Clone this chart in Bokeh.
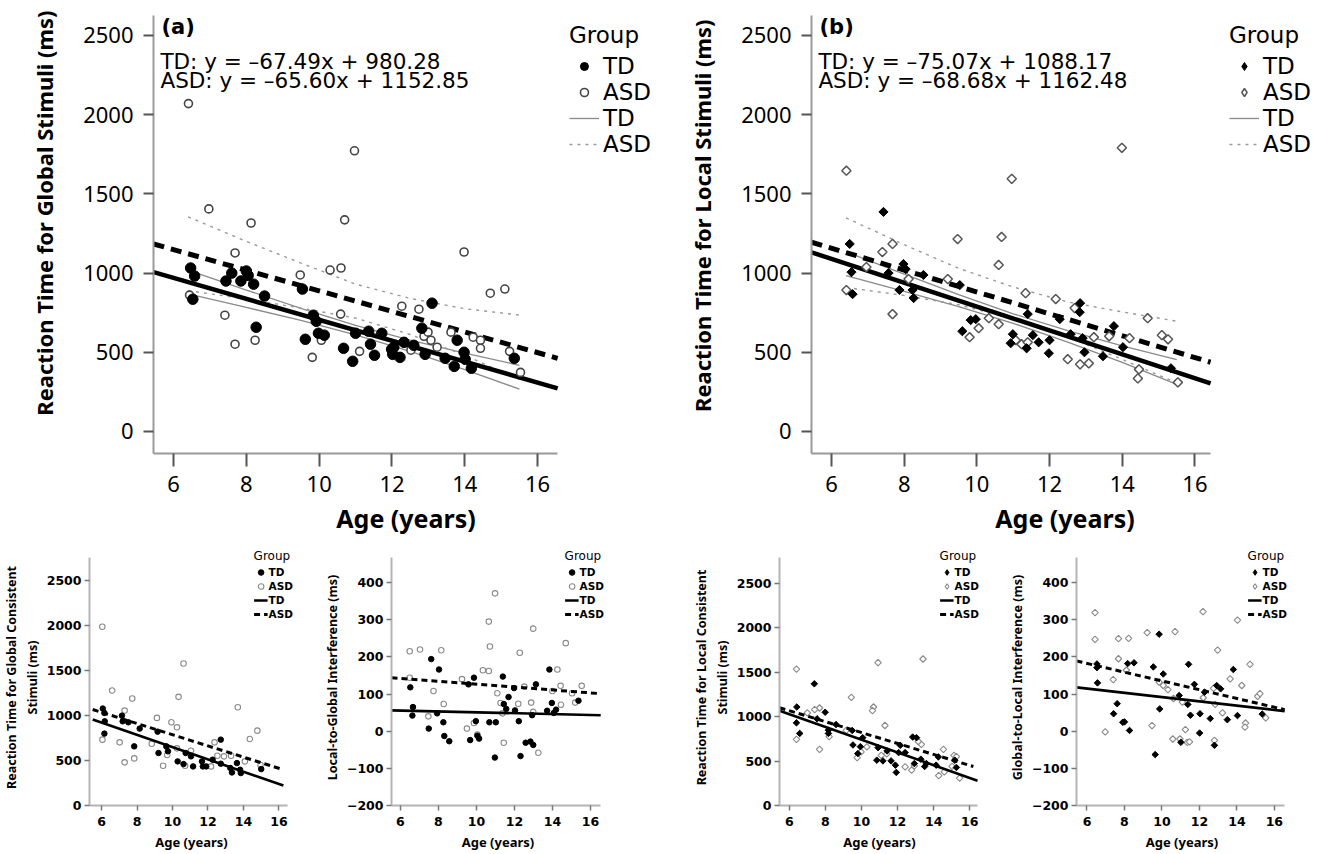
import math
from bokeh.plotting import figure
from bokeh.models import Range1d, Legend, LegendItem, Label, FixedTicker, Title
from bokeh.layouts import column, row
from bokeh.embed import file_html
from bokeh.resources import INLINE

FONT = "Noto Sans"
FONT2 = "DejaVu Sans"

AGE_TICKS = [6, 8, 10, 12, 14, 16]
RT_TICKS = [0, 500, 1000, 1500, 2000, 2500]
INT_TICKS = [-200, -100, 0, 100, 200, 300, 400]

# ---------------- Panel (a): global stimuli ----------------
a_td_age = [6.47, 6.58, 6.53, 7.44, 7.60, 7.85, 8.00, 8.05, 8.20, 8.50, 9.54, 8.27, 9.84, 9.92, 9.62, 9.98,
            10.14, 10.67, 10.92, 11.00, 11.36, 11.41, 11.52, 11.72, 11.99, 12.02, 12.05, 12.22, 12.33, 12.60,
            12.82, 12.91, 13.10, 13.46, 13.71, 13.79, 13.98, 14.01, 14.18, 15.36]
a_td_rt = [1032, 981, 835, 950, 1000, 950, 1013, 985, 930, 855, 899, 658, 734, 696, 582, 620,
           608, 525, 443, 620, 633, 551, 481, 620, 519, 487, 532, 468, 563, 544,
           652, 487, 810, 462, 411, 576, 500, 456, 399, 462]
a_asd_age = [6.41, 10.97, 6.97, 8.13, 10.70, 7.69, 13.98, 10.30, 10.60, 9.48, 14.70, 15.10, 6.44, 7.41, 7.69,
             8.24, 9.81, 10.06, 10.59, 11.11, 12.27, 12.74, 12.52, 12.88, 12.99, 13.07, 13.24, 13.62, 14.23,
             14.43, 14.43, 15.23, 15.53]
a_asd_rt = [2070, 1772, 1405, 1316, 1336, 1127, 1133, 1019, 1032, 988, 873, 899, 861, 734, 551,
            576, 468, 576, 741, 506, 791, 772, 513, 601, 627, 576, 532, 627, 595,
            576, 525, 506, 373]
a_fit_age = [5.45, 16.55]
a_td_fit = [1006, 272]
a_asd_fit = [1184, 462]
a_ci_age = [6.4, 8.0, 9.5, 11.0, 12.5, 14.0, 15.5]
a_td_ci_hi = [1018, 893, 777, 670, 577, 494, 418]
a_td_ci_lo = [868, 783, 701, 610, 505, 390, 268]
a_asd_ci_hi = [1355, 1200, 1063, 930, 840, 775, 735]
a_asd_ci_lo = [889, 836, 779, 716, 612, 481, 327]

# ---------------- Panel (b): local stimuli ----------------
b_td_age = [7.43, 6.50, 6.55, 7.57, 7.98, 8.04, 8.53, 9.53, 7.87, 8.23, 6.58, 8.26, 9.60, 9.83, 9.97, 10.93,
            10.99, 11.37, 11.40, 11.54, 11.70, 12.00, 11.98, 12.28, 12.83, 12.84, 12.58, 12.91, 12.96, 13.47,
            13.77, 14.02, 15.34]
b_td_rt = [1386, 1184, 1006, 1000, 1057, 1025, 988, 924, 893, 893, 867, 842, 633, 703, 709, 557,
           614, 525, 741, 608, 563, 576, 494, 709, 753, 810, 614, 589, 500, 475,
           665, 532, 399]
b_asd_age = [6.41, 10.96, 13.99, 9.47, 10.68, 7.68, 7.40, 10.60, 6.96, 8.12, 9.20, 11.34, 12.17, 6.41, 7.68,
             9.80, 10.05, 10.33, 10.60, 11.07, 11.23, 11.40, 12.50, 12.69, 12.84, 13.08, 13.22, 13.64, 14.20,
             14.46, 14.43, 14.70, 15.09, 15.26, 15.53]
b_asd_rt = [1646, 1595, 1791, 1215, 1228, 1184, 1133, 1051, 1038, 962, 962, 873, 836, 893, 741,
            595, 652, 715, 677, 576, 551, 563, 456, 779, 424, 430, 595, 601, 589,
            392, 335, 715, 608, 582, 310]
b_fit_age = [5.45, 16.43]
b_td_fit = [1131, 304]
b_asd_fit = [1195, 437]
b_ci_age = [6.4, 8.0, 9.5, 11.0, 12.5, 14.0, 15.5]
b_td_ci_hi = [1134, 994, 864, 743, 636, 540, 453]
b_td_ci_lo = [984, 884, 788, 683, 564, 436, 297]
b_asd_ci_hi = [1349, 1179, 1030, 912, 818, 755, 696]
b_asd_ci_lo = [909, 859, 800, 712, 598, 455, 306]

# ---------------- Panel (c): global consistent ----------------
c_td_age = [6.07, 6.16, 6.18, 6.16, 7.15, 7.19, 7.51, 7.84, 8.15, 9.16, 9.21, 9.65, 9.74, 10.29, 10.62,
            10.74, 11.04, 11.16, 11.66, 11.71, 11.90, 12.26, 12.72, 12.72, 13.26, 13.35, 13.63, 13.81, 13.85, 15.00]
c_td_rt = [1079, 1030, 937, 800, 1000, 937, 926, 658, 856, 822, 584, 658, 603, 491, 461,
           584, 547, 435, 491, 435, 435, 510, 733, 465, 417, 368, 472, 398, 361, 405]
c_asd_age = [6.04, 6.60, 10.62, 10.34, 7.73, 7.30, 6.05, 7.02, 7.30, 7.84, 9.12, 9.94, 10.25, 8.83, 9.47,
             9.70, 10.25, 10.71, 11.04, 12.17, 12.37, 12.53, 12.90, 13.68, 13.30, 14.36, 14.08, 14.78, 14.96]
c_asd_rt = [1990, 1280, 1581, 1209, 1190, 1056, 733, 703, 480, 524, 975, 926, 870, 688, 443,
            562, 636, 443, 610, 435, 703, 554, 547, 1094, 554, 740, 491, 833, 450]
c_fit_age = [5.5, 16.25]
c_td_fit = [956, 223]
c_asd_fit = [1068, 398]

# ---------------- Panel (d): local-to-global interference ----------------
d_td_age = [7.62, 8.03, 11.39, 9.87, 13.84, 6.52, 9.58, 11.98, 13.13, 11.69, 11.44, 11.57, 12.03, 13.97,
            13.72, 14.07, 14.19, 15.37, 6.66, 6.63, 7.93, 8.26, 7.49, 8.31, 8.57, 9.97, 10.68, 11.02, 12.23,
            9.67, 10.05, 10.14, 10.97, 12.32, 12.59, 12.84, 12.99, 12.93]
d_td_val = [194, 166, 147, 144, 166, 118, 126, 116, 126, 92, 73, 60, 56, 76,
            55, 49, 58, 82, 65, 42, 48, 24, 7, -13, -27, 27, 24, 24, 27,
            -24, -12, -20, -71, -67, -31, -28, -37, 43]
d_asd_age = [10.98, 10.65, 12.99, 12.28, 10.71, 14.70, 6.49, 7.03, 8.15, 10.34, 10.65, 14.26, 6.49, 9.24,
             7.74, 11.10, 12.52, 14.43, 15.54, 15.03, 7.47, 8.28, 11.27, 12.20, 12.88, 12.99, 14.45, 15.20,
             11.37, 9.50, 9.87, 10.05, 11.44, 13.26, 14.00]
d_asd_val = [371, 295, 276, 211, 228, 237, 215, 220, 218, 164, 162, 166, 144, 140,
             108, 102, 120, 122, 122, 102, 40, 73, 76, 74, 77, 52, 71, 77,
             48, 7, 22, -9, -31, -58, 108]
d_fit_age = [5.53, 16.54]
d_td_fit = [56, 43]
d_asd_fit = [144, 101]

# ---------------- Panel (e): local consistent ----------------
e_td_age = [7.39, 6.42, 6.40, 6.58, 7.54, 7.99, 8.17, 8.17, 8.59, 9.49, 9.53, 9.80, 9.94, 10.07, 10.85,
            10.92, 11.19, 11.42, 11.64, 11.88, 11.93, 12.06, 12.15, 12.42, 12.84, 13.05, 12.93, 13.29, 13.50,
            13.60, 14.14, 14.26, 15.26, 15.17]
e_td_rt = [1369, 1108, 930, 811, 975, 1049, 848, 811, 911, 844, 681, 584, 662, 763, 510,
           651, 502, 614, 502, 454, 372, 595, 677, 595, 770, 763, 472, 521, 439,
           472, 454, 547, 428, 510]
e_asd_age = [6.40, 10.92, 13.41, 9.44, 10.67, 10.61, 7.68, 7.41, 7.00, 11.30, 6.40, 7.68, 8.21, 9.16, 9.76,
             9.98, 10.30, 11.10, 11.40, 12.42, 12.78, 12.93, 13.32, 14.28, 14.54, 15.02, 15.13, 15.26, 15.44,
             13.15, 14.59]
e_asd_rt = [1533, 1607, 1648, 1216, 1108, 1068, 1097, 1079, 1042, 900, 744, 632, 774, 844, 539,
            603, 660, 565, 580, 435, 398, 446, 688, 335, 632, 439, 565, 550, 309,
            720, 379]
e_fit_age = [5.46, 16.43]
e_td_fit = [1067, 279]
e_asd_fit_age = [5.46, 16.2]
e_asd_fit = [1100, 439]

# ---------------- Panel (f): global-to-local interference ----------------
f_td_age = [9.85, 6.53, 6.53, 6.56, 8.17, 8.51, 9.54, 10.07, 11.42, 11.73, 12.27, 13.81, 13.13, 12.92, 7.61,
            7.42, 7.91, 8.00, 8.27, 9.88, 10.92, 11.01, 11.38, 11.52, 12.03, 12.01, 12.58, 12.80, 13.49, 14.03,
            15.35, 9.64]
f_td_val = [261, 181, 171, 130, 182, 184, 173, 154, 180, 126, 105, 166, 114, 123, 74,
            47, 24, 25, 2, 60, 96, -30, 72, 43, 47, -5, 34, -38, 31, 42,
            46, -63]
f_asd_age = [6.43, 12.19, 14.03, 6.43, 9.21, 10.70, 7.68, 8.22, 12.97, 7.68, 8.10, 7.40, 9.85, 10.07, 10.32,
             10.62, 11.09, 12.20, 12.75, 13.64, 14.26, 14.70, 15.11, 15.23, 15.54, 12.84, 13.23, 14.46, 14.43,
             6.97, 9.47, 10.58, 10.96, 11.25, 11.35, 11.47, 12.80]
f_asd_val = [319, 322, 299, 247, 265, 268, 249, 250, 218, 195, 164, 139, 132, 123, 112,
             88, 78, 90, 115, 141, 123, 180, 94, 101, 36, 72, 49, 22, 11,
             -2, 15, -21, -21, 4, -30, -29, -25]
f_fit_age = [5.44, 16.55]
f_td_fit = [118, 54]
f_asd_fit = [189, 58]


def base_fig(width, height, xr, yr, left, right, top, bottom):
    p = figure(width=width, height=height, x_range=Range1d(xr[0], xr[1]), y_range=Range1d(yr[0], yr[1]),
               output_backend="svg", toolbar_location=None,
               min_border_left=left, min_border_right=right, min_border_top=top, min_border_bottom=bottom)
    p.outline_line_color = None
    p.xgrid.grid_line_color = None
    p.ygrid.grid_line_color = None
    p.background_fill_color = "white"
    p.border_fill_color = "white"
    return p


def style_axes(p, big, yticks, xlabel, ylabel):
    p.xaxis.ticker = FixedTicker(ticks=AGE_TICKS)
    p.yaxis.ticker = FixedTicker(ticks=yticks)
    p.xaxis.axis_label = xlabel
    if ylabel is not None:
        p.yaxis.axis_label = ylabel
    for ax in (p.xaxis[0], p.yaxis[0]):
        ax.axis_line_color = "#9a9a9a" if big else "#b4b4b4"
        ax.axis_line_width = 2
        ax.major_tick_line_color = "#555555" if big else "#777777"
        ax.major_tick_line_width = 2 if big else 1.5
        ax.major_tick_in = 0
        ax.minor_tick_line_color = None
        ax.major_label_text_font = FONT
        ax.axis_label_text_font = FONT
        ax.axis_label_text_font_style = "bold"
        ax.major_label_text_color = "black"
        ax.axis_label_text_color = "black"
    xa, ya = p.xaxis[0], p.yaxis[0]
    if big:
        xa.major_tick_out = 13
        ya.major_tick_out = 10
        xa.major_label_standoff = 9
        ya.major_label_standoff = 10
        xa.major_label_text_font_size = "22px"
        ya.major_label_text_font_size = "22px"
        xa.axis_label_text_font_size = "25px"
        ya.axis_label_text_font_size = "22px"
        xa.axis_label_standoff = 6
        ya.axis_label_standoff = 20
    else:
        for ax in (xa, ya):
            ax.major_tick_out = 5
            ax.major_label_text_font = FONT2
            ax.major_label_text_font_size = "12.5px"
            ax.major_label_text_font_style = "bold"
        xa.major_label_standoff = 6
        ya.major_label_standoff = 3
        xa.axis_label_standoff = 4
        ya.axis_label_standoff = 3
        xa.axis_label_text_font_size = "13px"
        ya.axis_label_text_font_size = "12.5px"


def main_panel(width, left, xr, x_end, tag, eqs, ylabel, ylabel_offset, td_age, td_rt, asd_age, asd_rt,
               fit_age, td_fit, asd_fit, ci_age, td_hi, td_lo, asd_hi, asd_lo, diamond, leg_margin):
    # frame extended to the right to host the legend; the x axis line stops at the data range end
    p = base_fig(width, 547, (xr[0], x_end), (-139, 2626), left, 0, 15, 94)
    style_axes(p, True, RT_TICKS, "Age (years)", None)
    # y title placed near the top of the axis, as in the original figure
    p.add_layout(Title(text=ylabel, align="right", offset=ylabel_offset, standoff=44,
                       text_font=FONT, text_font_size="22px", text_font_style="bold",
                       text_color="black"), "left")
    p.xaxis.bounds = (xr[0], xr[1])
    r_tdci = p.line(ci_age, td_hi, line_color="#8a8a8a", line_width=1.3)
    p.line(ci_age, td_lo, line_color="#8a8a8a", line_width=1.3)
    r_asdci = p.line(ci_age, asd_hi, line_color="#9a9a9a", line_width=1.4, line_dash="3 5")
    p.line(ci_age, asd_lo, line_color="#9a9a9a", line_width=1.4, line_dash="3 5")
    p.line(fit_age, td_fit, line_color="black", line_width=4.5)
    p.line(fit_age, asd_fit, line_color="black", line_width=5, line_dash="11 7")
    if diamond:
        p.scatter(asd_age, asd_rt, marker="square", angle=math.pi / 4, size=6.5,
                  fill_color="white", line_color="#555555", line_width=1.5)
        p.scatter(td_age, td_rt, marker="square", angle=math.pi / 4, size=6.5,
                  fill_color="black", line_color="black")
        # legend-only twins (not drawn in the plot) so that the legend shows diamonds
        r_asd = p.scatter(asd_age, asd_rt, marker="diamond", size=9, fill_color="white",
                          line_color="#555555", line_width=1.5, visible=False)
        r_td = p.scatter(td_age, td_rt, marker="diamond", size=9, fill_color="black",
                         line_color="black", visible=False)
    else:
        r_asd = p.scatter(asd_age, asd_rt, marker="circle", size=8,
                          fill_color="white", line_color="#444444", line_width=1.6)
        r_td = p.scatter(td_age, td_rt, marker="circle", size=10.5,
                         fill_color="black", line_color="black")
    p.add_layout(Label(x=xr[0] + 0.22, y=2552, text=tag, text_font=FONT2, text_font_size="21px",
                       text_font_style="bold", text_baseline="middle", text_color="black"))
    p.add_layout(Label(x=xr[0] + 0.19, y=2338, text=eqs[0], text_font=FONT2, text_font_size="21.5px",
                       text_baseline="middle", text_color="black"))
    p.add_layout(Label(x=xr[0] + 0.19, y=2215, text=eqs[1], text_font=FONT2, text_font_size="21.5px",
                       text_baseline="middle", text_color="black"))
    leg = Legend(items=[LegendItem(label="TD", renderers=[r_td]),
                        LegendItem(label="ASD", renderers=[r_asd]),
                        LegendItem(label="TD", renderers=[r_tdci]),
                        LegendItem(label="ASD", renderers=[r_asdci])],
                 title="Group", location="top_right")
    leg.border_line_color = None
    leg.background_fill_alpha = 0
    leg.label_text_font = FONT2
    leg.title_text_font = FONT2
    leg.label_text_color = "black"
    leg.title_text_color = "black"
    leg.label_text_font_size = "23px"
    leg.title_text_font_size = "23px"
    leg.title_text_font_style = "normal"
    leg.glyph_width = 30
    leg.glyph_height = 20
    leg.label_height = 26
    leg.label_standoff = 4
    leg.spacing = 0
    leg.padding = 3
    leg.margin = leg_margin
    leg.title_standoff = 5
    p.add_layout(leg)
    return p


def small_panel(width, left, right, xr, x_view_end, yr, y_view_top, yticks, ylabel,
                td_age, td_val, asd_age, asd_val, fit_age, td_fit, asd_fit_age, asd_fit, diamond):
    # the frame reaches a little above / right of the axes so that the legend can sit there
    p = base_fig(width, 306, (xr[0], x_view_end), (yr[0], y_view_top), left, right, 2, 48)
    style_axes(p, False, yticks, "Age (years)", ylabel)
    p.xaxis.bounds = (xr[0], xr[1])
    p.yaxis.bounds = (yr[0], yr[1])
    if diamond:
        p.scatter(asd_age, asd_val, marker="square", angle=math.pi / 4, size=4.6,
                  fill_color="white", line_color="#8a8a8a", line_width=1.1)
        p.scatter(td_age, td_val, marker="square", angle=math.pi / 4, size=4.6,
                  fill_color="black", line_color="black")
        r_asd = p.scatter(asd_age, asd_val, marker="diamond", size=6, fill_color="white",
                          line_color="#8a8a8a", line_width=1.1, visible=False)
        r_td = p.scatter(td_age, td_val, marker="diamond", size=6, fill_color="black",
                         line_color="black", visible=False)
    else:
        r_asd = p.scatter(asd_age, asd_val, marker="circle", size=5.5,
                          fill_color="white", line_color="#8a8a8a", line_width=1.1)
        r_td = p.scatter(td_age, td_val, marker="circle", size=5.5,
                         fill_color="black", line_color="black")
    r_tdl = p.line(fit_age, td_fit, line_color="black", line_width=2.6)
    r_asdl = p.line(asd_fit_age, asd_fit, line_color="black", line_width=3, line_dash="6 4")
    leg = Legend(items=[LegendItem(label="TD", renderers=[r_td]),
                        LegendItem(label="ASD", renderers=[r_asd]),
                        LegendItem(label="TD", renderers=[r_tdl]),
                        LegendItem(label="ASD", renderers=[r_asdl])],
                 title="Group", location="top_right")
    leg.border_line_color = None
    leg.background_fill_alpha = 0
    leg.label_text_font = FONT2
    leg.title_text_font = FONT2
    leg.label_text_color = "black"
    leg.title_text_color = "black"
    leg.label_text_font_size = "10.5px"
    leg.label_text_font_style = "bold"
    leg.title_text_font_size = "12px"
    leg.title_text_font_style = "normal"
    leg.glyph_width = 14
    leg.glyph_height = 14
    leg.label_height = 12
    leg.label_standoff = 1
    leg.spacing = 0
    leg.padding = 0
    leg.margin = 0
    leg.title_standoff = 2
    p.add_layout(leg)
    return p


pa = main_panel(658, 153, (5.45, 16.55), 19.32, "(a)",
                ["TD: y = \u201367.49x + 980.28", "ASD: y = \u201365.60x + 1152.85"],
                "Reaction Time for Global Stimuli (ms)", -5,
                a_td_age, a_td_rt, a_asd_age, a_asd_rt, a_fit_age, a_td_fit, a_asd_fit,
                a_ci_age, a_td_ci_hi, a_td_ci_lo, a_asd_ci_hi, a_asd_ci_lo, False, 7)
pb = main_panel(660, 153, (5.45, 16.43), 19.40, "(b)",
                ["TD: y = \u201375.07x + 1088.17", "ASD: y = \u201368.68x + 1162.48"],
                "Reaction Time for Local Stimuli (ms)", 4,
                b_td_age, b_td_rt, b_asd_age, b_asd_rt, b_fit_age, b_td_fit, b_asd_fit,
                b_ci_age, b_td_ci_hi, b_td_ci_lo, b_asd_ci_hi, b_asd_ci_lo, True, 7)

pc = small_panel(320, 83, 27, (5.32, 16.49), 16.82, (0, 2760), 2849, RT_TICKS,
                 "Reaction Time for Global Consistent\nStimuli (ms)",
                 c_td_age, c_td_rt, c_asd_age, c_asd_rt, c_fit_age, c_td_fit, c_fit_age, c_asd_fit, False)
pd_ = small_panel(370, 63, 86, (5.53, 16.54), 16.74, (-200, 467), 489, INT_TICKS,
                  "Local-to-Global Interference (ms)",
                  d_td_age, d_td_val, d_asd_age, d_asd_val, d_fit_age, d_td_fit, d_fit_age, d_asd_fit, False)
pe = small_panel(315, 85, 26, (5.46, 16.43), 16.54, (0, 2790), 2880, RT_TICKS,
                 "Reaction Time for Local Consistent\nStimuli (ms)",
                 e_td_age, e_td_rt, e_asd_age, e_asd_rt, e_fit_age, e_td_fit, e_asd_fit_age, e_asd_fit, True)
pf = small_panel(313, 62, 31, (5.44, 16.55), 16.70, (-200, 467), 489, INT_TICKS,
                 "Global-to-Local Interference (ms)",
                 f_td_age, f_td_val, f_asd_age, f_asd_val, f_fit_age, f_td_fit, f_fit_age, f_asd_fit, True)

layout = column(row(pa, pb), row(pc, pd_, pe, pf))

with open("out.html", "w") as fh:
    fh.write(file_html(layout, INLINE))
